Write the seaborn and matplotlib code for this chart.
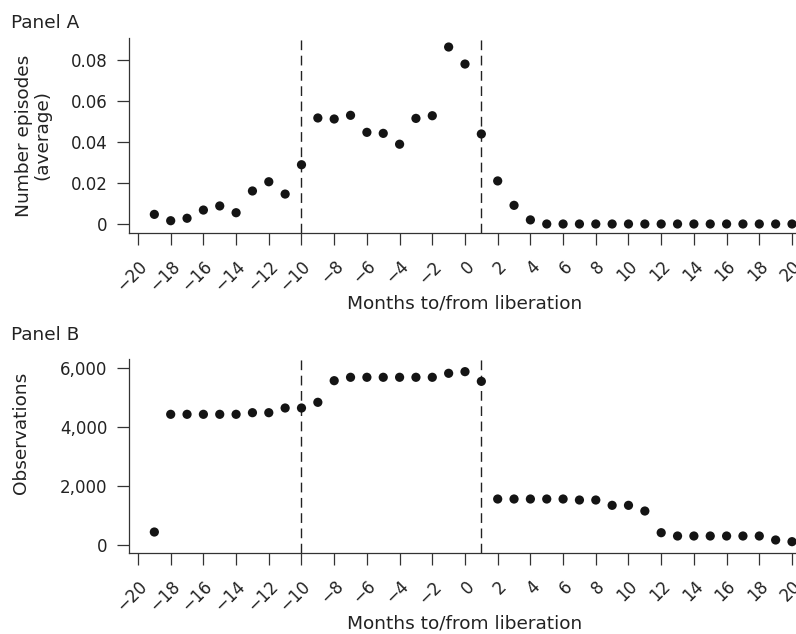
import matplotlib
matplotlib.use("Agg")
import matplotlib.pyplot as plt
import seaborn as sns
import pandas as pd

# ---- data ----
months = list(range(-19, 21))
episodes = [0.0047, 0.0016, 0.0028, 0.0068, 0.0088, 0.0055, 0.0161, 0.0206,
            0.0146, 0.0289, 0.0517, 0.0512, 0.0530, 0.0447, 0.0442, 0.0389,
            0.0515, 0.0528, 0.0863, 0.0780, 0.0439, 0.0210, 0.0091, 0.0020,
            0, 0, 0, 0, 0, 0, 0, 0, 0, 0, 0, 0, 0, 0, 0, 0]
observations = [430, 4420, 4420, 4420, 4420, 4420, 4475, 4475, 4634, 4634,
                4827, 5560, 5675, 5675, 5675, 5675, 5675, 5675, 5810, 5866,
                5538, 1549, 1549, 1549, 1549, 1549, 1515, 1515, 1335, 1335,
                1142, 407, 295, 295, 295, 295, 295, 295, 160, 103]
event_lines = [-10, 1]
x_ticks = list(range(-20, 21, 2))
x_ticklabels = [("\u2212" + str(-v)) if v < 0 else str(v) for v in x_ticks]
a_yticks = [0, 0.02, 0.04, 0.06, 0.08]
a_yticklabels = ["0", "0.02", "0.04", "0.06", "0.08"]
b_yticks = [0, 2000, 4000, 6000]
b_yticklabels = ["0", "2,000", "4,000", "6,000"]
panel_titles = ["Panel A", "Panel B"]
xlabel = "Months to/from liberation"
ylabels = ["Number episodes\n(average)", "Observations"]

df = pd.DataFrame({"month": months, "episodes": episodes, "obs": observations})

sns.set_style("ticks")
plt.rcParams["font.family"] = ["DejaVu Sans"]
TXT = "#222222"
SP = "#333333"
FS_LAB = 13.3
FS_TICK = 12

W, H = 796, 634
fig = plt.figure(figsize=(W / 100, H / 100), dpi=100)

def px_ax(left, top, right, bottom):
    return fig.add_axes([left / W, 1 - bottom / H, (right - left) / W, (bottom - top) / H])

axA = px_ax(129, 38, 796, 233)
axB = px_ax(129, 359, 796, 553)

sns.scatterplot(data=df, x="month", y="episodes", ax=axA, color="#141414",
                s=44, edgecolor="none", linewidth=0, clip_on=False, zorder=3)
sns.scatterplot(data=df, x="month", y="obs", ax=axB, color="#141414",
                s=44, edgecolor="none", linewidth=0, clip_on=False, zorder=3)

axA.set_ylim(-0.00439, 0.0907)
axB.set_ylim(-281, 6295)

for ax, yt, ytl, yl in [(axA, a_yticks, a_yticklabels, ylabels[0]),
                         (axB, b_yticks, b_yticklabels, ylabels[1])]:
    ax.set_xlim(-20.55, 20.245)
    for xv in event_lines:
        ax.axvline(xv, color="#222222", lw=1.0, ls=(0, (7, 4)), zorder=2)
    ax.set_xticks(x_ticks)
    ax.set_xticklabels(x_ticklabels, rotation=45, ha="right", va="top",
                       rotation_mode="anchor", fontsize=FS_TICK, color=TXT)
    ax.set_yticks(yt)
    ax.set_yticklabels(ytl, fontsize=FS_TICK, color=TXT)
    ax.tick_params(axis="both", length=8.5, width=0.9, color=SP, pad=7)
    ax.tick_params(axis="x", pad=9)
    for s in ["top", "right"]:
        ax.spines[s].set_visible(False)
    for s in ["left", "bottom"]:
        ax.spines[s].set_color(SP)
        ax.spines[s].set_linewidth(0.9)
    ax.set_xlabel(xlabel, fontsize=FS_LAB, color=TXT)
    ax.xaxis.label.set_va("baseline")
    ax.xaxis.set_label_coords((465 - 129) / (796 - 129), -75 / 194)
    ax.set_ylabel(yl, fontsize=FS_LAB, color=TXT, linespacing=1.0)

axA.yaxis.set_label_coords(-(129 - 33) / 667, 0.5)
axB.yaxis.set_label_coords(-(129 - 21) / 667, 0.62)
axA.yaxis.label.set_va("center")
axB.yaxis.label.set_va("center")

fig.text(11 / W, 1 - 28 / H, panel_titles[0], fontsize=FS_LAB, color=TXT, va="baseline")
fig.text(11 / W, 1 - 340 / H, panel_titles[1], fontsize=FS_LAB, color=TXT, va="baseline")

fig.savefig("out.png", dpi=100)
